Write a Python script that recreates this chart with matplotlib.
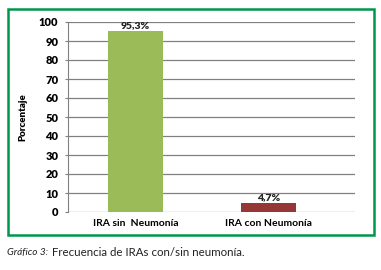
import matplotlib.pyplot as plt
from matplotlib.patches import Rectangle

categories = ['IRA sin  Neumonía', 'IRA con Neumonía']
values = [95.3, 4.7]
labels = ['95,3%', '4,7%']
colors = ['#9BBB59', '#953735']

plt.rcParams['font.family'] = ['Lato', 'DejaVu Sans']

W, H = 381, 270
fig = plt.figure(figsize=(W / 100, H / 100), dpi=100)

# green frame round the chart
fig.patches.append(Rectangle((8 / W, 1 - 235 / H), 366 / W, 226 / H, transform=fig.transFigure,
                             fill=False, edgecolor='#00964B', linewidth=1.8))

ax = fig.add_axes([68 / W, 1 - 212 / H, 287 / W, 190 / H])
x = range(len(categories))
bars = ax.bar(x, values, width=0.41, color=colors, zorder=3)
for b, lab in zip(bars, labels):
    ax.text(b.get_x() + b.get_width() / 2, b.get_height() + 0.6, lab, ha='center', va='bottom',
            fontsize=7.5, fontweight='heavy', color='#222222')

ax.set_xlim(-0.505, 1.65)
ax.set_ylim(0, 100)
ax.set_yticks(range(0, 101, 10))
ax.set_xticks(list(x))
ax.set_xticklabels(categories, fontsize=7.5, fontweight='bold')
ax.tick_params(axis='x', length=0, pad=5)
ax.tick_params(axis='y', length=2, labelsize=8, width=0.8, color='#808080', pad=5)
for t in ax.get_yticklabels():
    t.set_fontweight('heavy')
ax.grid(axis='y', color='#808080', linewidth=0.9, zorder=0)
for s in ['top', 'right', 'bottom']:
    ax.spines[s].set_visible(False)
ax.spines['left'].set_color('#808080')
ax.set_ylabel('Porcentaje', fontsize=7, fontweight='heavy', labelpad=8)

fig.text(7 / W, 1 - 253 / H, 'Gráfico 3:', fontsize=7.2, style='italic', va='center', color='#222222')
fig.text(52 / W, 1 - 253 / H, 'Frecuencia de IRAs con/sin neumonía.', fontsize=8.3, va='center',
         color='#222222')

fig.savefig('out.png', dpi=100)
